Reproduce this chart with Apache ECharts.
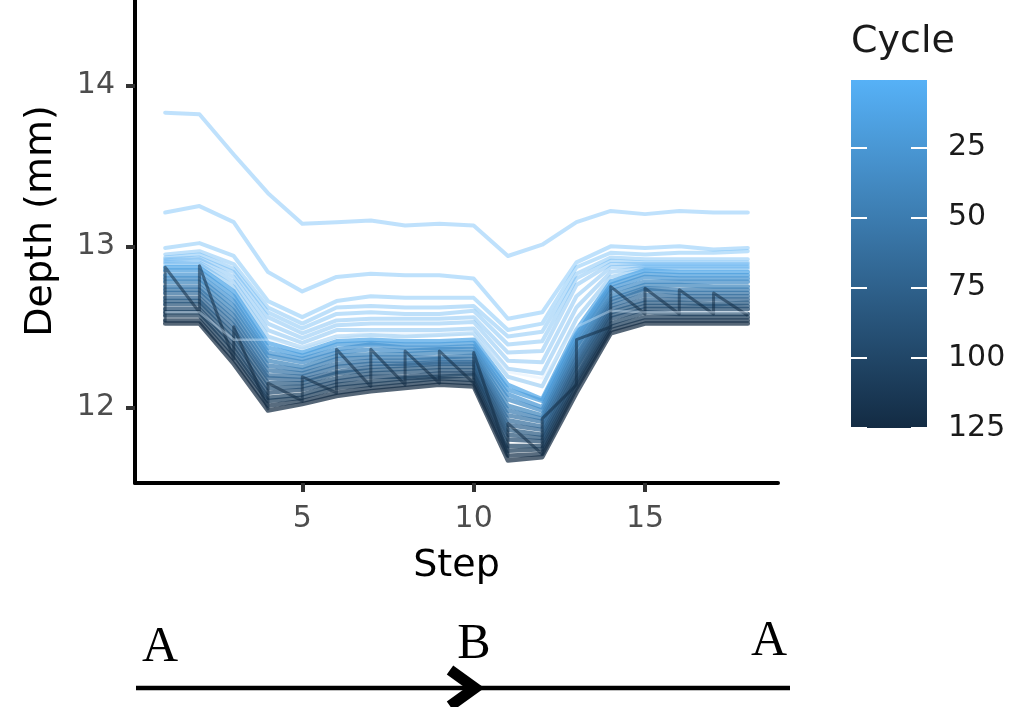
<!DOCTYPE html>
<html>
<head>
<meta charset="utf-8">
<title>Depth per step by cycle</title>
<script src="https://cdn.jsdelivr.net/npm/echarts@6/dist/echarts.min.js"></script>
<style>
  html, body { margin: 0; padding: 0; background: #fff; }
  #chart { width: 1020px; height: 707px; }
</style>
</head>
<body>
<div id="chart"></div>
<script>
// Step positions along the path
const steps = [1, 2, 3, 4, 5, 6, 7, 8, 9, 10, 11, 12, 13, 14, 15, 16, 17, 18];

// Measured depth (mm) at each step, one array per cycle
const depthC1   = [13.83, 13.82, 13.57, 13.33, 13.14, 13.15, 13.16, 13.13, 13.14, 13.13, 12.94, 13.01, 13.15, 13.22, 13.20, 13.22, 13.21, 13.21];
const depthC2   = [13.21, 13.25, 13.15, 12.84, 12.72, 12.81, 12.83, 12.82, 12.82, 12.80, 12.55, 12.59, 12.90, 13.00, 12.99, 13.00, 12.98, 12.99];
const depthC3   = [12.99, 13.02, 12.94, 12.66, 12.56, 12.66, 12.69, 12.68, 12.68, 12.68, 12.48, 12.52, 12.87, 12.96, 12.95, 12.96, 12.96, 12.97];
const depthC4   = [12.95, 12.97, 12.89, 12.62, 12.52, 12.62, 12.63, 12.62, 12.62, 12.63, 12.44, 12.47, 12.83, 12.93, 12.92, 12.92, 12.92, 12.92];
const depthC5   = [12.93, 12.95, 12.86, 12.59, 12.49, 12.58, 12.59, 12.58, 12.58, 12.60, 12.39, 12.41, 12.80, 12.91, 12.90, 12.90, 12.90, 12.90];
const depthC6   = [12.92, 12.93, 12.84, 12.56, 12.46, 12.54, 12.55, 12.55, 12.55, 12.56, 12.34, 12.35, 12.76, 12.89, 12.89, 12.89, 12.89, 12.89];
const depthC7   = [12.91, 12.92, 12.81, 12.52, 12.43, 12.51, 12.52, 12.52, 12.52, 12.53, 12.29, 12.28, 12.69, 12.87, 12.88, 12.88, 12.88, 12.88];
const depthC8   = [12.90, 12.90, 12.78, 12.48, 12.40, 12.48, 12.48, 12.48, 12.48, 12.49, 12.24, 12.21, 12.62, 12.84, 12.87, 12.87, 12.87, 12.87];
const depthC9   = [12.89, 12.89, 12.75, 12.44, 12.37, 12.44, 12.45, 12.44, 12.45, 12.46, 12.19, 12.13, 12.55, 12.81, 12.86, 12.86, 12.86, 12.86];
const depthC11  = [12.87, 12.87, 12.72, 12.40, 12.34, 12.41, 12.42, 12.41, 12.41, 12.42, 12.14, 12.05, 12.48, 12.78, 12.85, 12.84, 12.84, 12.84];
const depthC19  = [12.85, 12.85, 12.69, 12.37, 12.32, 12.39, 12.40, 12.39, 12.39, 12.40, 12.11, 12.04, 12.45, 12.76, 12.83, 12.82, 12.82, 12.82];
const depthC26  = [12.82, 12.82, 12.66, 12.34, 12.30, 12.36, 12.39, 12.37, 12.37, 12.38, 12.08, 12.00, 12.43, 12.74, 12.81, 12.80, 12.80, 12.80];
const depthC34  = [12.80, 12.80, 12.63, 12.32, 12.28, 12.34, 12.36, 12.35, 12.36, 12.36, 12.05, 11.98, 12.40, 12.72, 12.78, 12.78, 12.78, 12.78];
const depthC41  = [12.78, 12.78, 12.60, 12.29, 12.25, 12.32, 12.33, 12.33, 12.34, 12.34, 12.01, 11.95, 12.38, 12.69, 12.76, 12.76, 12.75, 12.75];
const depthC49  = [12.75, 12.75, 12.57, 12.26, 12.23, 12.30, 12.31, 12.31, 12.31, 12.32, 11.98, 11.93, 12.35, 12.67, 12.74, 12.73, 12.73, 12.73];
const depthC57  = [12.73, 12.73, 12.54, 12.23, 12.21, 12.27, 12.29, 12.29, 12.30, 12.30, 11.95, 11.91, 12.32, 12.65, 12.73, 12.71, 12.71, 12.71];
const depthC64  = [12.71, 12.71, 12.51, 12.20, 12.19, 12.25, 12.27, 12.27, 12.28, 12.28, 11.92, 11.88, 12.30, 12.63, 12.70, 12.69, 12.69, 12.69];
const depthC72  = [12.68, 12.68, 12.48, 12.18, 12.17, 12.22, 12.25, 12.26, 12.27, 12.27, 11.89, 11.86, 12.27, 12.61, 12.67, 12.67, 12.67, 12.67];
const depthC80  = [12.66, 12.66, 12.45, 12.15, 12.15, 12.21, 12.23, 12.24, 12.25, 12.25, 11.86, 11.83, 12.25, 12.59, 12.65, 12.65, 12.64, 12.65];
const depthC87  = [12.64, 12.64, 12.42, 12.12, 12.13, 12.18, 12.21, 12.22, 12.23, 12.23, 11.83, 11.81, 12.22, 12.57, 12.63, 12.63, 12.63, 12.63];
const depthC95  = [12.61, 12.61, 12.39, 12.09, 12.11, 12.16, 12.19, 12.19, 12.21, 12.21, 11.80, 11.79, 12.19, 12.55, 12.61, 12.61, 12.61, 12.61];
const depthC102 = [12.59, 12.59, 12.36, 12.06, 12.08, 12.14, 12.16, 12.18, 12.19, 12.20, 11.76, 11.76, 12.17, 12.52, 12.59, 12.58, 12.58, 12.58];
const depthC110 = [12.57, 12.57, 12.33, 12.04, 12.06, 12.12, 12.14, 12.16, 12.18, 12.17, 11.73, 11.74, 12.14, 12.50, 12.56, 12.56, 12.56, 12.56];
const depthC118 = [12.54, 12.54, 12.30, 12.01, 12.04, 12.09, 12.12, 12.14, 12.16, 12.15, 11.70, 11.71, 12.12, 12.48, 12.54, 12.54, 12.54, 12.54];
const depthC125 = [12.52, 12.52, 12.27, 11.98, 12.02, 12.07, 12.10, 12.12, 12.14, 12.13, 11.67, 11.69, 12.09, 12.46, 12.52, 12.52, 12.52, 12.52];

const cycles = [1, 2, 3, 4, 5, 6, 7, 8, 9, 11, 19, 26, 34, 41, 49, 57, 64, 72, 80, 87, 95, 102, 110, 118, 125];
const depthByCycle = [depthC1, depthC2, depthC3, depthC4, depthC5, depthC6, depthC7, depthC8, depthC9,
  depthC11, depthC19, depthC26, depthC34, depthC41, depthC49, depthC57, depthC64, depthC72,
  depthC80, depthC87, depthC95, depthC102, depthC110, depthC118, depthC125];

// Last cycle, read twice per step: lower and upper reading
const lastCycleLow  = [12.53, 12.59, 12.30, 11.99, 12.04, 12.09, 12.13, 12.14, 12.15, 12.15, 11.70, 11.71, 12.14, 12.50, 12.58, 12.58, 12.58, 12.57];
const lastCycleHigh = [12.87, 12.88, 12.50, 12.15, 12.19, 12.36, 12.36, 12.35, 12.35, 12.34, 11.90, 11.93, 12.42, 12.75, 12.74, 12.73, 12.71, null];

// Pale reference pass drawn over the band
const paleDepth = [12.59, 12.59, 12.42, 12.42, 12.38, 12.44, 12.47, 12.46, 12.46, 12.47, 12.22, 12.18, 12.50, 12.60, 12.59, 12.59, 12.59, 12.59];

// Axis and colour-bar ticks
const xTicks = [5, 10, 15];
const yTicks = [12, 13, 14];
const cycleTicks = [25, 50, 75, 100, 125];
const cycleMin = 1, cycleMax = 125;

// Colour scale: light blue for early cycles, navy for late ones
const lowRGB = [86, 177, 247];   // #56B1F7
const highRGB = [19, 43, 67];    // #132B43
function cycleColor(c, alpha) {
  const t = (c - cycleMin) / (cycleMax - cycleMin);
  const rgb = lowRGB.map((v, i) => Math.round(v + (highRGB[i] - v) * t));
  return 'rgba(' + rgb.join(',') + ',' + alpha + ')';
}

const FONT = 'DejaVu Sans';
// Each drawn line stands for a run of neighbouring cycles, so the
// dense band gets a stronger opacity than the isolated early cycles.
function lineAlpha(c) { return c <= 9 ? 0.38 : 0.72; }

const series = depthByCycle.map((arr, k) => ({
  name: 'Cycle ' + cycles[k],
  type: 'line',
  xAxisIndex: 0, yAxisIndex: 0,
  data: steps.map((s, i) => [s, arr[i]]),
  symbol: 'none',
  silent: true,
  lineStyle: { width: cycles[k] <= 9 ? 4 : 4.5, color: cycleColor(cycles[k], lineAlpha(cycles[k])), cap: 'round', join: 'round' }
}));

const lastCycleData = [];
steps.forEach((s, i) => {
  lastCycleData.push([s, lastCycleLow[i]]);
  if (lastCycleHigh[i] !== null) lastCycleData.push([s, lastCycleHigh[i]]);
});
series.push({
  name: 'Cycle 125 (repeat)',
  type: 'line',
  data: lastCycleData,
  symbol: 'none',
  silent: true,
  lineStyle: { width: 3, color: 'rgba(19,43,67,0.55)', join: 'round' }
});
series.push({
  name: 'Pale pass',
  type: 'line',
  data: steps.map((s, i) => [s, paleDepth[i]]),
  symbol: 'none',
  silent: true,
  lineStyle: { width: 2.5, color: 'rgba(214,234,252,0.4)', join: 'round' }
});

const chart = echarts.init(document.getElementById('chart'), null, { renderer: 'canvas' });

chart.setOption({
  animation: false,
  backgroundColor: '#fff',
  grid: [
    { left: 135, right: 242, top: 0, bottom: 224, containLabel: false },
    {
      left: 851, top: 80, width: 76, height: 348, show: true, borderWidth: 0,
      backgroundColor: {
        type: 'linear', x: 0, y: 0, x2: 0, y2: 1,
        colorStops: [
          { offset: 0, color: cycleColor(cycleMin, 1) },
          { offset: 0.5, color: cycleColor((cycleMin + cycleMax) / 2, 1) },
          { offset: 1, color: cycleColor(cycleMax, 1) }
        ]
      }
    }
  ],
  xAxis: [
    {
      gridIndex: 0, type: 'value', min: 0.12, max: 18.88,
      axisLine: { show: true, onZero: false, lineStyle: { color: '#000', width: 4 } },
      axisTick: { show: true, customValues: xTicks, length: 9, lineStyle: { color: '#333', width: 4 } },
      axisLabel: { customValues: xTicks, color: '#4D4D4D', fontSize: 30, fontFamily: FONT, margin: 21 },
      splitLine: { show: false },
      name: 'Step', nameLocation: 'middle', nameGap: 64,
      nameTextStyle: { color: '#000', fontSize: 38, fontFamily: FONT }
    },
    { gridIndex: 1, type: 'value', min: 0, max: 1, show: false }
  ],
  yAxis: [
    {
      gridIndex: 0, type: 'value', min: 11.53, max: 14.53,
      axisLine: { show: true, onZero: false, lineStyle: { color: '#000', width: 4 } },
      axisTick: { show: true, customValues: yTicks, length: 9, lineStyle: { color: '#333', width: 4 } },
      axisLabel: { customValues: yTicks, color: '#4D4D4D', fontSize: 30, fontFamily: FONT, margin: 20 },
      splitLine: { show: false }
    },
    {
      gridIndex: 1, type: 'value', min: cycleMin, max: cycleMax, inverse: true, position: 'left',
      axisLine: { show: false },
      axisTick: { show: true, inside: true, customValues: cycleTicks, length: 16, lineStyle: { color: '#fff', width: 2 } },
      axisLabel: { show: false, customValues: cycleTicks },
      splitLine: { show: false }
    },
    {
      gridIndex: 1, type: 'value', min: cycleMin, max: cycleMax, inverse: true, position: 'right',
      axisLine: { show: false },
      axisTick: { show: true, inside: true, customValues: cycleTicks, length: 16, lineStyle: { color: '#fff', width: 2 } },
      axisLabel: { show: true, customValues: cycleTicks, color: '#1a1a1a', fontSize: 30, fontFamily: FONT, margin: 21 },
      splitLine: { show: false }
    }
  ],
  series: series,
  graphic: [
    // y-axis title
    { type: 'text', x: 41, y: 221, rotation: Math.PI / 2,
      style: { text: 'Depth (mm)', font: '38px "DejaVu Sans"', fill: '#000', align: 'center', verticalAlign: 'middle' } },
    // colour-bar title
    { type: 'text', left: 851, top: 23, style: { text: 'Cycle', font: '38px "DejaVu Sans"', fill: '#1a1a1a' } },
    // A -> B -> A path indicator under the chart
    { type: 'line', shape: { x1: 136, y1: 688, x2: 790, y2: 688 }, style: { stroke: '#000', lineWidth: 4.5 } },
    { type: 'polyline', shape: { points: [[450, 670], [475, 688], [450, 706]] }, style: { stroke: '#000', lineWidth: 11, fill: null, lineJoin: 'miter' } },
    { type: 'text', style: { x: 160, y: 648, text: 'A', font: '50px "Liberation Serif"', fill: '#000', align: 'center', verticalAlign: 'middle' } },
    { type: 'text', style: { x: 474, y: 645, text: 'B', font: '50px "Liberation Serif"', fill: '#000', align: 'center', verticalAlign: 'middle' } },
    { type: 'text', style: { x: 769, y: 642, text: 'A', font: '50px "Liberation Serif"', fill: '#000', align: 'center', verticalAlign: 'middle' } }
  ]
});
</script>
</body>
</html>
